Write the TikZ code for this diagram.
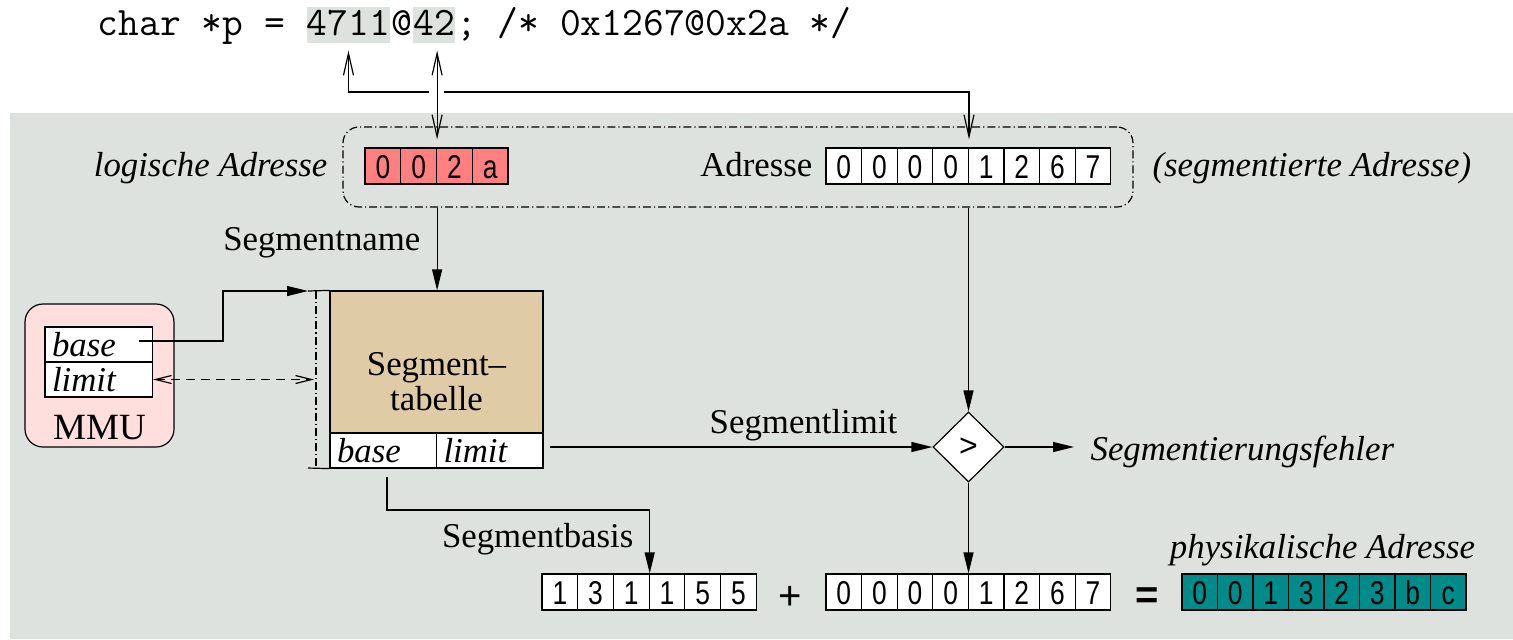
\documentclass[tikz,border=0pt]{standalone}
\usepackage{fontspec}
\setmainfont{Liberation Serif}
\newfontfamily\cellfont[FakeStretch=0.8]{Liberation Sans}
\newfontfamily\plainsans{Liberation Sans}
\usetikzlibrary{arrows.meta,shapes.geometric,calc}

\definecolor{bggray}{RGB}{221,226,222}
\definecolor{hlgray}{RGB}{221,226,222}
\definecolor{lred}{RGB}{255,128,128}
\definecolor{tabletan}{RGB}{223,203,165}
\definecolor{mmupink}{RGB}{255,222,222}
\definecolor{physteal}{RGB}{0,139,139}

\newcommand\serifsize{\fontsize{17.4}{17.5}\selectfont}
\newcommand\digitrow[6]{%
  \foreach \d [count=\i] in {#6}
    \node[cell, fill=#5, minimum width={#3*0.5pt}] (#1\i) at ({#2+(\i-0.5)*#3},#4) {\d};%
}

\begin{document}
\begin{tikzpicture}[x=0.5pt,y=-0.5pt,
  line width=0.6pt,
  cell/.style={draw, inner sep=0, minimum height=18pt, text height=12pt, text depth=0pt,
               font=\cellfont\fontsize{16.5}{18}\selectfont},
  lbl/.style={inner sep=0, font=\serifsize},
  ilbl/.style={inner sep=0, font=\serifsize\itshape},
  code/.style={inner sep=0, font=\ttfamily\fontsize{20.2}{22}\selectfont},
  hl/.style={code, fill=hlgray, text height=14pt, text depth=4pt},
  farr/.style={-{Triangle[length=10.5pt,width=5pt]}},
  oarr/.style={{Straight Barb[length=11pt,width=5pt]}-{Straight Barb[length=11pt,width=5pt]}},
  darr/.style={dash pattern=on 4.5pt off 3pt,
               {Straight Barb[length=8pt,width=4pt]}-{Straight Barb[length=8pt,width=4pt]}},
  dd/.style={dash pattern=on 4pt off 1.5pt on 0.6pt off 1.5pt},
  fieldcell/.style={draw, fill=white, inner xsep=3.5pt, inner ysep=0, minimum height=17.5pt,
                    text width=#1, align=left, font=\serifsize\itshape},
]
\useasboundingbox (0,0) rectangle (1513,639);
\fill[bggray] (10,113) rectangle (1513,639);

% code line
\node[code, anchor=base west] (c1) at (97,35) {char~*p~=\phantom{x}};
\node[hl, anchor=base west] (c2) at (c1.base east) {4711};
\node[code, anchor=base west] (c3) at (c2.base east) {@};
\node[hl, anchor=base west] (c4) at (c3.base east) {42};
\node[code, anchor=base west] (c5) at (c4.base east) {;~/*~0x1267@0x2a~*/};

% segmented address box
\node[draw, dd, rounded corners=8pt, minimum width=395pt, minimum height=40pt, inner sep=0] (abox) at (738,167) {};
\node[ilbl, anchor=base east] (loglbl) at (328,176) {logische Adresse};
\digitrow{la}{365}{35.75}{166}{lred}{0,0,2,a}
\node[lbl, anchor=base east] (adrlbl) at (813,176) {Adresse};
\digitrow{ad}{826}{35.6}{166}{white}{0,0,0,0,1,2,6,7}
\node[ilbl, anchor=base west] (seglbl) at (1152,176) {(segmentierte Adresse)};

% arrows from code line
\coordinate (a1top) at ($(c2.south)+(0,7)$);
\coordinate (a1bot) at ($(ad4.north east)+(0,-8)$);
\coordinate (jog) at (0,92);
\draw[oarr] (a1top) |- (a1bot |- jog) -- (a1bot);
\fill[white] (429,88) rectangle (444,96);
\coordinate (a2top) at ($(la2.north east |- c4.south)+(0,7)$);
\coordinate (a2bot) at ($(la2.north east)+(0,-8)$);
\draw[oarr] (a2top) -- (a2bot);

% segment table
\node[draw, fill=tabletan, minimum width=106.5pt, minimum height=71pt, inner sep=0] (st) at (436.5,362) {};
\node[lbl, align=center] (stlabel) at (436.5,382) {Segment–\\tabelle};
\node[fieldcell=46.25pt] (stb) at (383.25,450.5) {base};
\node[fieldcell=46.25pt] (stl) at (489.75,450.5) {limit};
\node[lbl, anchor=base east] (snlbl) at (421,250) {Segmentname};
\draw[farr] (la2.north east |- abox.south) -- (la2.north east |- st.north);

% register bracket
\coordinate (regtop) at (308,291);
\coordinate (regbot) at (308,468);
\coordinate (regmid) at (314,379.5);
\draw (regtop) -- (st.north west);
\draw (regbot) -- (stb.south west);
\draw[dd] (316,291) -- (316,468);

% MMU
\node[draw, fill=mmupink, rounded corners=9pt, minimum width=74.5pt, minimum height=71.5pt, inner sep=0] (mmu) at (99.5,375.5) {};
\node[fieldcell=46.75pt] (mmubase) at (98.75,344.5) {base};
\node[fieldcell=46.75pt] (mmulimit) at (98.75,379.5) {limit};
\node[lbl, anchor=base, font=\fontsize{18.5}{20}\selectfont] (mmulbl) at (99.5,439) {MMU};
\coordinate (bstart) at (139,341);
\draw[farr] (bstart) -- (223,341) |- (regtop);
\draw[darr] (mmulimit.east) -- (regmid);

% comparator
\node[diamond, draw, fill=white, minimum width=35.5pt, minimum height=35pt, inner sep=0,
      font=\plainsans\fontsize{16}{18}\selectfont] (cmp) at (968.5,447) {>};
\draw[farr] (cmp.north |- abox.south) -- (cmp.north);
\coordinate (slstart) at (550,447);
\draw[farr] (slstart) -- (cmp.west);
\node[lbl, anchor=base] (sllbl) at (803.5,433) {Segmentlimit};
\coordinate (sfend) at (1074,447);
\draw[farr] (cmp.east) -- (sfend);
\node[ilbl, anchor=base west] (sflbl) at (1090,460) {Segmentierungsfehler};

% bottom row
\digitrow{ba}{542}{35.7}{592}{white}{1,3,1,1,5,5}
\node[inner sep=0, font=\plainsans\fontsize{20}{22}\selectfont] (plus) at (790,598) {+};
\digitrow{bb}{826}{35.6}{592}{white}{0,0,0,0,1,2,6,7}
\node[inner sep=0, font=\plainsans\bfseries\fontsize{20}{22}\selectfont] (eq) at (1147,598) {=};
\digitrow{pa}{1182}{35.5}{592}{physteal}{0,0,1,3,2,3,b,c}
\node[ilbl, anchor=base] (phlbl) at (1322.5,558) {physikalische Adresse};

\draw[farr] (cmp.south) -- (cmp.south |- bb4.north);
\coordinate (sbstart) at (387,477);
\draw[farr] (sbstart) -- (387,510) -| (ba3.north east);
\node[lbl, anchor=base east] (sblbl) at (634,547) {Segmentbasis};
\end{tikzpicture}
\end{document}
